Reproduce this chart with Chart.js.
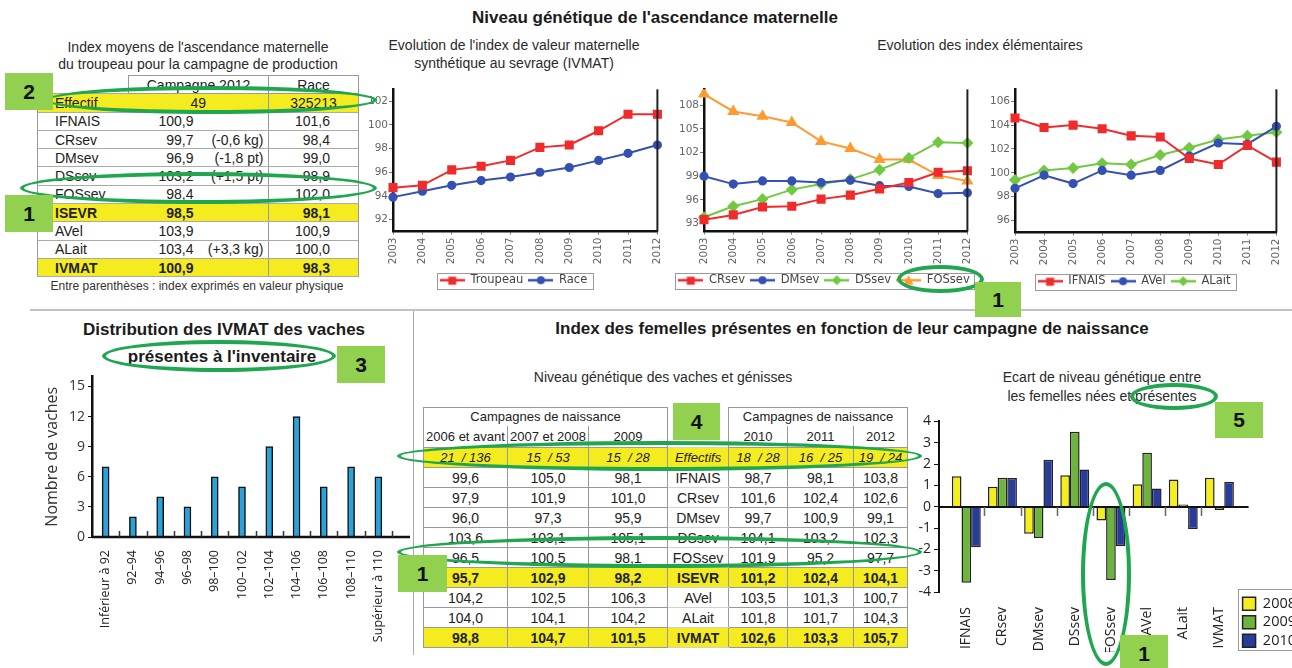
<!DOCTYPE html>
<html lang="fr">
<head>
<meta charset="utf-8">
<title>Niveau génétique de l'ascendance maternelle</title>
<script src="https://cdn.jsdelivr.net/npm/chart.js@4.4.1/dist/chart.umd.min.js"></script>
<style>
  html, body { margin: 0; padding: 0; overflow: hidden; }
  body { width: 1292px; height: 668px; position: relative; background: #fff; color: #222;
         font-family: "Liberation Sans", Arial, sans-serif; }
  .txt { position: absolute; white-space: nowrap; transform: translateX(-50%); line-height: 1; }
  .ttl { font-weight: bold; font-size: 17px; color: #1b1b1b; }
  .sub { font-size: 14px; color: #2a2a2a; }
  .box { position: absolute; }
  .rule { position: absolute; background: #c2c2c2; }
  .ell { position: absolute; box-sizing: border-box; border: 4px solid #1fa64e; border-radius: 50%; }
  .tag { position: absolute; background: #92d050; color: #111; font: bold 21px "Liberation Sans", Arial, sans-serif;
         display: flex; align-items: center; justify-content: center; }
  table { position: absolute; border-collapse: collapse; table-layout: fixed; color: #222; }
  td { padding: 0; white-space: nowrap; overflow: hidden; }
  tr.y td { background: #f4ec1f; }
  tr.b td { font-weight: bold; }

  #tTop { left: 37px; top: 75px; width: 321px; font-size: 14px; }
  #tTop tr { height: 18.3px; }
  #tTop td { border-top: 1px solid #aaa; border-bottom: 1px solid #aaa; }
  #tTop td.nb { border: none; background: #fff; }
  #tTop td.hd { border: 1px solid #999; text-align: center; }
  #tTop td.c1 { border-left: 1px solid #999; padding-left: 17px; }
  #tTop td.c3 { border-left: 1px solid #999; border-right: 1px solid #999; text-align: right; padding-right: 28px; }
  #tTop td.mid { text-align: center; padding-right: 0; }
  #tTop span.v { display: inline-block; width: 65px; text-align: right; }
  #tTop span.p { display: inline-block; width: 70px; text-align: right; }

  #tBot { left: 423px; top: 407px; width: 484px; font-size: 14px; text-align: center; }
  #tBot tr { height: 20px; }
  #tBot td { border: 1px solid #999; }
  #tBot tr.h1 { height: 18px; }
  #tBot tr.h2 { height: 22px; }
  #tBot tr.h1 td.g { border-bottom: none; font-size: 13px; }
  #tBot tr.h2 td.g { border-top: none; font-size: 13px; }
  #tBot td.e { border: none; background: #fff; }
  #tBot td.lab { border-top: 1px solid #d0d0d0; border-bottom: 1px solid #d0d0d0; }
  #tBot tr.eff td { font-style: italic; font-size: 13px; }
</style>
</head>
<body>

<div class="txt ttl" style="left:655px;top:9px">Niveau génétique de l'ascendance maternelle</div>
<div class="txt sub" style="left:198px;top:40px">Index moyens de l'ascendance maternelle</div>
<div class="txt sub" style="left:198px;top:57px">du troupeau pour la campagne de production</div>
<div class="txt sub" style="left:514px;top:38px">Evolution de l'index de valeur maternelle</div>
<div class="txt sub" style="left:514px;top:56px">synthétique au sevrage (IVMAT)</div>
<div class="txt sub" style="left:980px;top:38px">Evolution des index élémentaires</div>
<div class="txt" style="left:197px;top:280px;font-size:12px;color:#333">Entre parenthèses : index exprimés en valeur physique</div>

<div class="rule" style="left:30px;top:309px;width:1262px;height:2px"></div>
<div class="rule" style="left:413px;top:311px;width:1px;height:344px;background:#aaa"></div>

<div class="txt ttl" style="left:224px;top:321px">Distribution des IVMAT des vaches</div>
<div class="txt ttl" style="left:222px;top:348px">présentes à l'inventaire</div>
<div class="txt ttl" style="left:852px;top:320px">Index des femelles présentes en fonction de leur campagne de naissance</div>
<div class="txt sub" style="left:663px;top:370px">Niveau génétique des vaches et génisses</div>
<div class="txt sub" style="left:1102px;top:370px">Ecart de niveau génétique entre</div>
<div class="txt sub" style="left:1102px;top:389px">les femelles nées et présentes</div>

<table id="tTop"></table>
<table id="tBot"></table>

<div class="box" style="left:362px;top:82px;width:311px;height:214px"><canvas id="cIvmat"></canvas></div>
<div class="box" style="left:673px;top:82px;width:310px;height:214px"><canvas id="cSevrage"></canvas></div>
<div class="box" style="left:984px;top:82px;width:308px;height:215px"><canvas id="cAptitudes"></canvas></div>
<div class="box" style="left:30px;top:365px;width:382px;height:282px"><canvas id="cDistrib"></canvas></div>
<div class="box" style="left:909px;top:410px;width:397px;height:242px"><canvas id="cEcart"></canvas></div>

<div class="ell" style="left:45px;top:86px;width:332px;height:28px"></div>
<div class="ell" style="left:20px;top:172px;width:357px;height:32px"></div>
<div class="ell" style="left:897px;top:265px;width:87px;height:28px"></div>
<div class="ell" style="left:102px;top:340px;width:234px;height:32px"></div>
<div class="ell" style="left:397px;top:441px;width:525px;height:30px"></div>
<div class="ell" style="left:397px;top:536px;width:525px;height:32px"></div>
<div class="ell" style="left:1130px;top:383px;width:88px;height:27px"></div>
<div class="ell" style="left:1081px;top:482px;width:50px;height:184px"></div>

<div class="tag" style="left:5px;top:73px;width:48px;height:37px">2</div>
<div class="tag" style="left:5px;top:195px;width:48px;height:37px">1</div>
<div class="tag" style="left:975px;top:282px;width:46px;height:35px">1</div>
<div class="tag" style="left:337px;top:346px;width:48px;height:37px">3</div>
<div class="tag" style="left:673px;top:403px;width:47px;height:37px">4</div>
<div class="tag" style="left:398px;top:555px;width:49px;height:37px">1</div>
<div class="tag" style="left:1215px;top:402px;width:48px;height:36px">5</div>
<div class="tag" style="left:1120px;top:635px;width:48px;height:37px">1</div>

<script>
// --- tableau du troupeau (campagne 2012) ---
const topIdx = ["IFNAIS", "CRsev", "DMsev", "DSsev", "FOSsev", "ISEVR", "AVel", "ALait", "IVMAT"];
const herdSize = 49, raceSize = 325213;
const herd2012 = [100.9, 99.7, 96.9, 103.2, 98.4, 98.5, 103.9, 103.4, 100.9];
const herdPhys = ["", "(-0,6 kg)", "(-1,8 pt)", "(+1,5 pt)", "", "", "", "(+3,3 kg)", ""];
const race2012 = [101.6, 98.4, 99.0, 98.9, 102.0, 98.1, 100.9, 100.0, 98.3];

// --- évolutions 2003-2012 ---
const years = ["2003", "2004", "2005", "2006", "2007", "2008", "2009", "2010", "2011", "2012"];
const ivmatHerd = [94.7, 94.9, 96.2, 96.5, 97.0, 98.1, 98.3, 99.5, 100.9, 100.9];
const ivmatRace = [93.9, 94.4, 94.9, 95.3, 95.6, 96.0, 96.4, 97.0, 97.6, 98.3];
const crsev = [93.5, 94.1, 95.1, 95.2, 96.1, 96.6, 97.4, 98.2, 99.5, 99.7];
const dmsev = [99.0, 98.0, 98.4, 98.4, 98.2, 98.5, 97.8, 97.7, 96.8, 96.9];
const dssev = [93.8, 95.2, 96.1, 97.3, 98.0, 98.6, 99.8, 101.3, 103.3, 103.2];
const fossev = [109.4, 107.2, 106.6, 105.8, 103.4, 102.5, 101.1, 101.1, 99.1, 98.4];
const ifnais = [104.6, 103.8, 104.0, 103.7, 103.1, 103.0, 101.2, 100.7, 102.3, 100.9];
const avel = [98.7, 99.8, 99.1, 100.2, 99.8, 100.2, 101.4, 102.5, 102.4, 103.9];
const alait = [99.4, 100.2, 100.4, 100.8, 100.7, 101.5, 102.1, 102.8, 103.1, 103.4];

// --- distribution des IVMAT ---
const ivmatClasses = ["Inférieur à 92", "92–94", "94–96", "96–98", "98–100", "100–102", "102–104", "104–106", "106–108", "108–110", "Supérieur à 110"];
const ivmatCows = [7, 2, 4, 3, 6, 5, 9, 12, 5, 7, 6];

// --- femelles par campagne de naissance ---
const birthGroups = ["2006 et avant", "2007 et 2008", "2009", "2010", "2011", "2012"];
const cowsPresent = [21, 15, 15, 18, 16, 19];
const cowsBorn = [136, 53, 28, 28, 25, 24];
const idx2006 = [99.6, 97.9, 96.0, 103.6, 96.5, 95.7, 104.2, 104.0, 98.8];
const idx2007 = [105.0, 101.9, 97.3, 103.1, 100.5, 102.9, 102.5, 104.1, 104.7];
const idx2009 = [98.1, 101.0, 95.9, 105.1, 98.1, 98.2, 106.3, 104.2, 101.5];
const idx2010 = [98.7, 101.6, 99.7, 104.1, 101.9, 101.2, 103.5, 101.8, 102.6];
const idx2011 = [98.1, 102.4, 100.9, 103.2, 95.2, 102.4, 101.3, 101.7, 103.3];
const idx2012 = [103.8, 102.6, 99.1, 102.3, 97.7, 104.1, 100.7, 104.3, 105.7];

// --- écart nées / présentes ---
const ecartIdx = ["IFNAIS", "CRsev", "DMsev", "DSsev", "FOSsev", "AVel", "ALait", "IVMAT"];
const ecart2008 = [1.43, 0.93, -1.27, 1.47, -0.65, 1.05, 1.27, 1.36];
const ecart2009 = [-3.57, 1.36, -1.47, 3.52, -3.44, 2.53, 0.1, -0.15];
const ecart2010 = [-1.9, 1.35, 2.2, 1.75, -1.86, 0.85, -1.04, 1.16];

const fmt = v => v.toFixed(1).replace('.', ',');
const isBold = n => n === 'ISEVR' || n === 'IVMAT';

// tableau haut gauche
let h = '<colgroup><col style="width:91px"><col style="width:140px"><col style="width:90px"></colgroup>' +
  '<tr><td class="nb"></td><td class="hd">Campagne 2012</td><td class="hd">Race</td></tr>' +
  `<tr class="y"><td class="c1">Effectif</td><td class="mid">${herdSize}</td><td class="c3 mid">${raceSize}</td></tr>`;
topIdx.forEach((n, i) => {
  h += `<tr class="${isBold(n) ? 'y b' : ''}"><td class="c1">${n}</td>` +
    `<td><span class="v">${fmt(herd2012[i])}</span><span class="p">${herdPhys[i]}</span></td>` +
    `<td class="c3">${fmt(race2012[i])}</td></tr>`;
});
document.getElementById('tTop').innerHTML = h;

// tableau bas
const byGroup = [idx2006, idx2007, idx2009, idx2010, idx2011, idx2012];
const rowCells = (fn, label) =>
  [0, 1, 2].map(i => `<td>${fn(i)}</td>`).join('') + `<td class="lab">${label}</td>` +
  [3, 4, 5].map(i => `<td>${fn(i)}</td>`).join('');
let b = '<colgroup>' + [84, 81, 79, 61, 59, 66, 54].map(w => `<col style="width:${w}px">`).join('') + '</colgroup>';
b += '<tr class="h1"><td class="g" colspan="3">Campagnes de naissance</td><td class="e"></td>' +
     '<td class="g" colspan="3">Campagnes de naissance</td></tr>';
b += '<tr class="h2">' + birthGroups.slice(0, 3).map(g => `<td class="g">${g}</td>`).join('') + '<td class="e"></td>' +
     birthGroups.slice(3).map(g => `<td class="g">${g}</td>`).join('') + '</tr>';
b += '<tr class="y eff">' + rowCells(i => `${cowsPresent[i]}&nbsp; / ${cowsBorn[i]}`, 'Effectifs') + '</tr>';
topIdx.forEach((n, r) => {
  b += `<tr class="${isBold(n) ? 'y b' : ''}">` + rowCells(i => fmt(byGroup[i][r]), n) + '</tr>';
});
document.getElementById('tBot').innerHTML = b;

// ---------- Chart.js ----------
Chart.defaults.animation = false;
Chart.defaults.maintainAspectRatio = false;
Chart.defaults.plugins.tooltip.enabled = false;
Chart.defaults.font.family = '"DejaVu Sans", sans-serif';

// bord droit du graphique + cadre autour de la légende
const frame = {
  id: 'frame',
  afterDraw(chart, args, opts) {
    const ctx = chart.ctx, a = chart.chartArea;
    ctx.save();
    if (opts.right) {
      ctx.strokeStyle = '#222'; ctx.lineWidth = 2;
      ctx.beginPath(); ctx.moveTo(a.right, a.top); ctx.lineTo(a.right, a.bottom); ctx.stroke();
    }
    const hb = chart.legend && chart.legend.legendHitBoxes;
    if (opts.box && hb && hb.length) {
      const [l, t, r, bt] = opts.box;
      const x0 = Math.min(...hb.map(q => q.left)) - l;
      const x1 = Math.max(...hb.map(q => q.left + q.width)) + r;
      const y0 = Math.min(...hb.map(q => q.top)) - t;
      const y1 = Math.max(...hb.map(q => q.top + q.height)) + bt;
      ctx.strokeStyle = '#9a9a9a'; ctx.lineWidth = 1;
      ctx.strokeRect(Math.round(x0) + 0.5, Math.round(y0) + 0.5, Math.round(x1 - x0), Math.round(y1 - y0));
    }
    ctx.restore();
  }
};

// symbole de légende : trait + marqueur
const markCache = {};
function legendMark(color, style) {
  const key = color + style;
  if (markCache[key]) return markCache[key];
  const c = document.createElement('canvas');
  c.width = 25; c.height = 12;
  const g = c.getContext('2d');
  g.strokeStyle = color; g.fillStyle = color; g.lineWidth = 2.5;
  g.beginPath(); g.moveTo(0, 6); g.lineTo(25, 6); g.stroke();
  g.beginPath();
  if (style === 'rect') g.rect(8.5, 2.5, 8, 8);
  else if (style === 'circle') g.arc(12.5, 6, 4, 0, Math.PI * 2);
  else if (style === 'rectRot') { g.moveTo(12.5, 1); g.lineTo(17.5, 6); g.lineTo(12.5, 11); g.lineTo(7.5, 6); g.closePath(); }
  else { g.moveTo(12.5, 1); g.lineTo(17.5, 10.5); g.lineTo(7.5, 10.5); g.closePath(); }
  g.fill();
  return (markCache[key] = c);
}

const RED = '#ef2b2b', BLUE = '#3450b2', GREEN = '#70c940', ORANGE = '#ff9a30';
const radius = { rect: 5, circle: 3.6, rectRot: 4.6, triangle: 5 };

function trendChart(id, series, yMin, yMax, step) {
  return new Chart(document.getElementById(id), {
    type: 'line',
    data: {
      labels: years,
      datasets: series.map(s => ({
        label: s.label, data: s.data, borderColor: s.color, backgroundColor: s.color,
        pointStyle: s.point, pointRadius: radius[s.point], borderWidth: 2, tension: 0
      }))
    },
    options: {
      layout: { padding: { top: 5, right: 8 } },
      scales: {
        x: {
          offset: false,
          grid: { drawOnChartArea: false, tickLength: 3, color: '#777' },
          border: { color: '#111', width: 2.5 },
          ticks: { minRotation: 90, maxRotation: 90, autoSkip: false, padding: 3, color: '#666', font: { size: 10.5 } },
          afterFit: s => { s.height = 38; }
        },
        y: {
          min: yMin, max: yMax,
          grid: { drawOnChartArea: false, tickLength: 4, color: '#777' },
          border: { color: '#111', width: 2.5 },
          ticks: { padding: 1, color: '#666', font: { size: 10.5 } },
          afterBuildTicks: s => {
            const t = [];
            for (let v = Math.ceil(yMin / step) * step; v <= yMax; v += step) t.push({ value: v });
            s.ticks = t;
          },
          afterFit: s => { s.width = 31; }
        }
      },
      plugins: {
        legend: {
          position: 'bottom',
          labels: {
            usePointStyle: true, pointStyleWidth: 25, padding: 5, font: { size: 11.5 },
            generateLabels: c => c.data.datasets.map((d, i) => ({
              text: d.label, datasetIndex: i, pointStyle: legendMark(d.borderColor, d.pointStyle),
              fillStyle: d.borderColor, strokeStyle: d.borderColor, lineWidth: 0, fontColor: '#444', hidden: false
            }))
          }
        },
        frame: { right: true, box: [3, 2, 5, 2] }
      }
    },
    plugins: [frame]
  });
}

trendChart('cIvmat', [
  { label: 'Troupeau', data: ivmatHerd, color: RED, point: 'rect' },
  { label: 'Race', data: ivmatRace, color: BLUE, point: 'circle' }
], 91, 103, 2);

trendChart('cSevrage', [
  { label: 'CRsev', data: crsev, color: RED, point: 'rect' },
  { label: 'DMsev', data: dmsev, color: BLUE, point: 'circle' },
  { label: 'DSsev', data: dssev, color: GREEN, point: 'rectRot' },
  { label: 'FOSsev', data: fossev, color: ORANGE, point: 'triangle' }
], 92, 110, 3);

trendChart('cAptitudes', [
  { label: 'IFNAIS', data: ifnais, color: RED, point: 'rect' },
  { label: 'AVel', data: avel, color: BLUE, point: 'circle' },
  { label: 'ALait', data: alait, color: GREEN, point: 'rectRot' }
], 95, 107, 2);

// histogramme : axe prolongé + petites graduations entre classes
const baseLine = {
  id: 'baseLine',
  afterDatasetsDraw(chart) {
    const { ctx, chartArea: a, scales: { x } } = chart;
    const n = x.ticks.length, w = (a.right - a.left) / n;
    ctx.save();
    ctx.strokeStyle = '#111'; ctx.lineWidth = 2.5;
    ctx.beginPath(); ctx.moveTo(a.left, a.bottom); ctx.lineTo(a.right + 18, a.bottom); ctx.stroke();
    ctx.lineWidth = 1.5; ctx.strokeStyle = '#333';
    ctx.beginPath();
    for (let k = 1; k <= n; k++) {
      const px = Math.round(a.left + k * w) + 0.5;
      ctx.moveTo(px, a.bottom); ctx.lineTo(px, a.bottom - 6);
    }
    ctx.stroke();
    ctx.restore();
  }
};

new Chart(document.getElementById('cDistrib'), {
  type: 'bar',
  data: {
    labels: ivmatClasses,
    datasets: [{ data: ivmatCows, backgroundColor: '#2ba3da', borderColor: '#111', borderWidth: 1.5, barThickness: 7 }]
  },
  options: {
    layout: { padding: { top: 10, right: 20 } },
    scales: {
      x: {
        grid: { display: false }, border: { display: false },
        ticks: { minRotation: 90, maxRotation: 90, autoSkip: false, padding: 5, color: '#222',
                 font: { family: '"Open Sans", sans-serif', size: 12.5 } },
        afterFit: s => { s.height = 110; }
      },
      y: {
        min: 0, max: 16,
        grid: { drawOnChartArea: false, tickLength: 4, color: '#111' },
        border: { color: '#111', width: 2.5 },
        ticks: { stepSize: 3, includeBounds: false, padding: 3, color: '#333',
                 font: { family: '"Open Sans", sans-serif', size: 14 } },
        title: { display: true, text: 'Nombre de vaches', color: '#333', padding: { top: 13, bottom: 0 },
                 font: { family: '"Open Sans", sans-serif', size: 16 } },
        afterFit: s => { s.width = 62; }
      }
    },
    plugins: { legend: { display: false } }
  },
  plugins: [baseLine]
});

// écart : ligne du zéro + graduations entre index
const zeroLine = {
  id: 'zeroLine',
  afterDatasetsDraw(chart) {
    const { ctx, chartArea: a, scales: { x, y } } = chart;
    const y0 = Math.round(y.getPixelForValue(0));
    ctx.save();
    ctx.strokeStyle = '#111'; ctx.lineWidth = 2;
    ctx.beginPath(); ctx.moveTo(a.left, y0); ctx.lineTo(a.right + 10, y0); ctx.stroke();
    ctx.strokeStyle = '#666'; ctx.lineWidth = 1.5;
    ctx.beginPath();
    for (let k = 0; k < ecartIdx.length - 1; k++) {
      const px = Math.round(x.getPixelForValue(k + 0.5)) + 0.5;
      ctx.moveTo(px, y0); ctx.lineTo(px, y0 + 9);
    }
    ctx.stroke();
    ctx.restore();
  }
};

const ecartSet = (label, vals, color) => ({
  label, data: vals.map((v, i) => ({ x: i, y: v })), backgroundColor: color,
  borderColor: '#222', borderWidth: 1.5, categoryPercentage: 0.8, barPercentage: 1
});

new Chart(document.getElementById('cEcart'), {
  type: 'bar',
  data: {
    datasets: [
      ecartSet('2008', ecart2008, '#f4ef1c'),
      ecartSet('2009', ecart2009, '#6cb43c'),
      ecartSet('2010', ecart2010, '#283c9c')
    ]
  },
  options: {
    layout: { padding: { top: 9 } },
    scales: {
      x: {
        type: 'linear', min: -0.755, max: 7.53, offset: false,
        grid: { display: false }, border: { display: false },
        ticks: { stepSize: 1, includeBounds: false, autoSkip: false, minRotation: 90, maxRotation: 90, padding: 7,
                 color: '#222', font: { family: '"Open Sans", sans-serif', size: 14 },
                 callback: v => ecartIdx[v] ?? '' },
        afterFit: s => { s.height = 60; }
      },
      y: {
        min: -4, max: 4,
        grid: { drawOnChartArea: false, tickLength: 5, color: '#111' },
        border: { color: '#111', width: 2 },
        ticks: { stepSize: 1, padding: 3, color: '#222', font: { family: '"Open Sans", sans-serif', size: 14 } },
        afterFit: s => { s.width = 30; }
      }
    },
    plugins: {
      legend: {
        position: 'right', align: 'end',
        labels: { boxWidth: 13, boxHeight: 13, padding: 4, color: '#222',
                  font: { family: '"Open Sans", sans-serif', size: 14.5 } }
      },
      frame: { right: false, box: [5, 8, 6, 1] }
    }
  },
  plugins: [zeroLine, frame]
});
</script>
</body>
</html>
